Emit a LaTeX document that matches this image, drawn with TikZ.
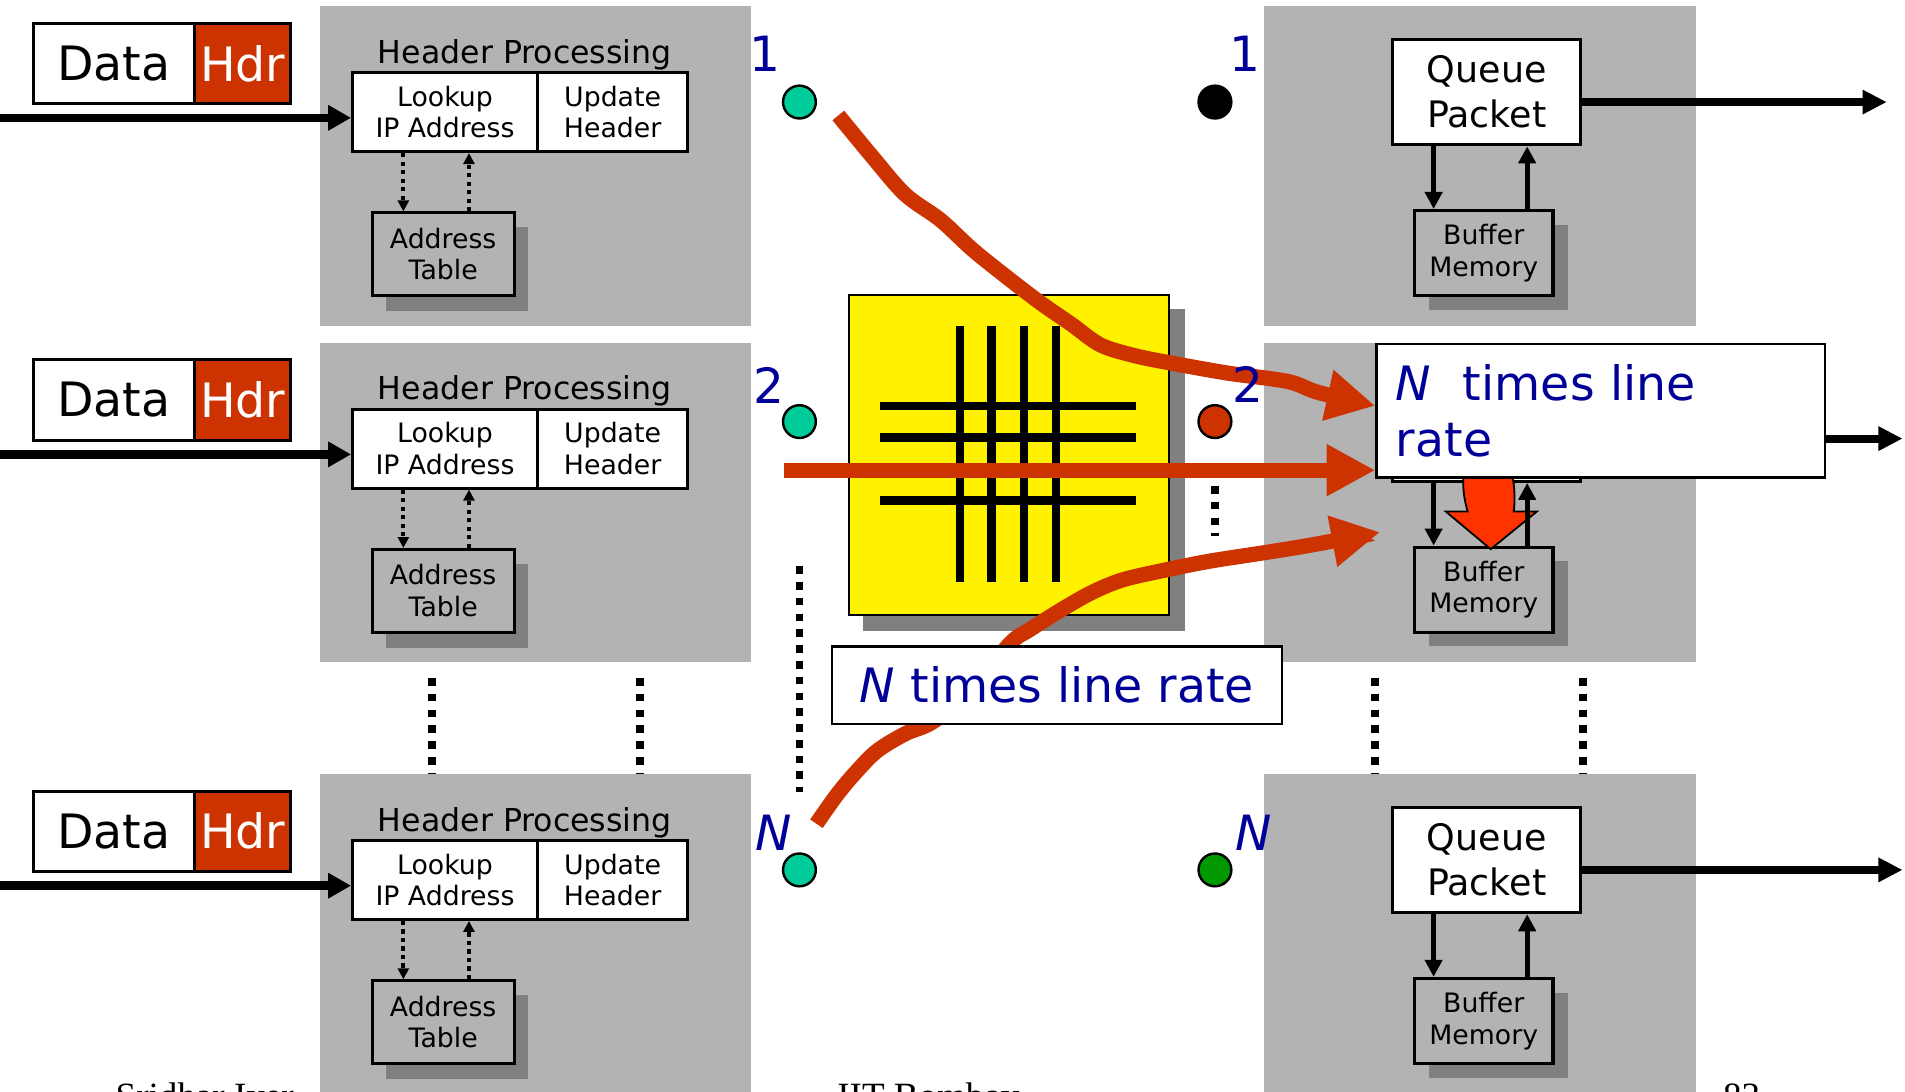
\documentclass[tikz,border=0pt]{standalone}
\usepackage{fontspec}
\setmainfont{DejaVu Sans}
\newfontfamily\footfont{Liberation Serif}
\usetikzlibrary{arrows.meta,calc}
\definecolor{bggray}{RGB}{179,179,179}
\definecolor{shgray}{RGB}{128,128,128}
\definecolor{hdrred}{RGB}{204,51,0}
\definecolor{tealc}{RGB}{0,204,153}
\definecolor{greenc}{RGB}{0,153,0}
\definecolor{lblue}{RGB}{0,0,153}
\definecolor{bigred}{RGB}{255,51,0}
\newcommand\fData{\fontsize{39}{46}\selectfont}
\newcommand\fHP{\fontsize{26}{31}\selectfont}
\newcommand\fSm{\fontsize{22}{26}\selectfont}
\newcommand\fQ{\fontsize{30}{37}\selectfont}
\newcommand\fBig{\fontsize{39}{46}\selectfont}
\newcommand\fLbl{\fontsize{40}{48}\selectfont}
\newcommand\fFoot{\footfont\fontsize{30.5}{36}\selectfont}
\tikzset{
  box/.style={draw=black, line width=2.5pt, fill=white, inner sep=0pt, anchor=north west},
  inarrow/.style={line width=7pt, -{Triangle[length=19pt,width=20pt]}},
  outarrow/.style={line width=6.5pt, -{Triangle[length=20pt,width=19pt]}},
  qarrow/.style={line width=4pt, -{Triangle[length=14pt,width=14pt]}},
  dotarrow/.style={line width=3.5pt, dash pattern=on 3.5pt off 3.5pt, -{Triangle[length=9pt,width=9pt]}},
  sepdots/.style={line width=6.3pt, dash pattern=on 6.3pt off 6.7pt},
  port/.style={circle, draw=black, line width=2pt, minimum size=27pt, inner sep=0pt},
  lbl/.style={text=lblue, font=\fLbl, anchor=base, inner sep=0pt},
  flow/.style={draw=hdrred, line width=12.5pt, -{Triangle[length=40pt,width=40pt]}},
  xbar/.style={line width=7pt},
}
\begin{document}
\begin{tikzpicture}[x=1pt,y=-1pt]
\useasboundingbox (0,0) rectangle (1568,898);
\fill[white] (0,0) rectangle (1568,898);

% dotted separators between rows
\draw[sepdots] (355.5,558) -- (355.5,640);
\draw[sepdots] (527,558) -- (527,640);
\draw[sepdots] (1132,558) -- (1132,640);
\draw[sepdots] (1303,558) -- (1303,640);

% ---------- input side ----------
\foreach \r/\dy in {1/0,2/277,3/632}{
  \fill[bggray] (263,{5+\dy}) rectangle (618.5,{268+\dy});
  \node[box, minimum width=133pt, minimum height=66pt, font=\fData] (data\r) at (26,{18+\dy}) {Data};
  \node[box, fill=hdrred, text=white, minimum width=79pt, minimum height=66pt, font=\fData] (hdr\r) at (159,{18+\dy}) {Hdr};
  \node[anchor=base, font=\fHP, inner sep=0pt] (hp\r) at (432,{52+\dy}) {Header Processing};
  \node[box, minimum width=152pt, minimum height=65pt, align=center, font=\fSm] (lookup\r) at (289,{58.5+\dy}) {Lookup\\IP Address};
  \node[box, minimum width=124pt, minimum height=65pt, align=center, font=\fSm] (update\r) at (441,{58.5+\dy}) {Update\\Header};
  \fill[shgray] (318,{187+\dy}) rectangle (435,{256+\dy});
  \node[box, fill=bggray, minimum width=117pt, minimum height=68pt, align=center, font=\fSm] (addr\r) at (305,{174+\dy}) {Address\\Table};
  \coordinate (in\r) at (0,{97+\dy});
  \draw[inarrow] (in\r) -- (in\r -| lookup\r.west);
  \coordinate (la\r) at ($(lookup\r.south west)+(43,0)$);
  \coordinate (lb\r) at ($(lookup\r.south west)+(97,0)$);
  \draw[dotarrow] (la\r) -- (la\r |- addr\r.north);
  \draw[dotarrow] (lb\r |- addr\r.north) -- (lb\r);
}

% ---------- output side ----------
\foreach \r/\dy/\tx/\qt in {1/0/1553/{Queue\\Packet},2/277/1566/{},3/632/1566/{Queue\\Packet}}{
  \fill[bggray] (1040,{5+\dy}) rectangle (1396,{268+\dy});
  \node[box, minimum width=155pt, minimum height=87pt, align=center, font=\fQ] (q\r) at (1145,{31+\dy}) {\qt};
  \fill[shgray] (1176,{185+\dy}) rectangle (1291,{255+\dy});
  \node[box, fill=bggray, minimum width=114pt, minimum height=70pt, align=center, font=\fSm] (buf\r) at (1163,{172+\dy}) {Buffer\\Memory};
  \coordinate (out\r) at (\tx,{84+\dy});
  \draw[outarrow] (q\r.east |- out\r) -- (out\r);
  \coordinate (qa\r) at ($(q\r.south west)+(35,0)$);
  \coordinate (qb\r) at ($(q\r.south west)+(112,0)$);
}
\foreach \r in {1,3}{
  \draw[qarrow] (qa\r) -- (qa\r |- buf\r.north);
  \draw[qarrow] (qb\r |- buf\r.north) -- (qb\r);
}

% ---------- switch fabric ----------
\fill[shgray] (710,254) rectangle (975,519);
\node[box, line width=2pt, fill=yellow, minimum width=263pt, minimum height=263pt] (sw) at (698,242) {};
\foreach \x in {790,816,843,869} \draw[xbar] (\x,268) -- (\x,479);
\foreach \y in {334,360,386,412} \draw[xbar] (724,\y) -- (935,\y);

% ports
\node[port, fill=tealc] (i1) at (658,84) {};
\node[port, fill=tealc] (i2) at (658,347) {};
\node[port, fill=tealc] (iN) at (658,716) {};
\node[port, fill=black] (o1) at (1000,84) {};
\node[port, fill=hdrred] (o2) at (1000,347) {};
\node[port, fill=greenc] (oN) at (1000,716) {};
\draw[sepdots] (658,466) -- (658,652);
\draw[sepdots] (1000,400) -- (1000,441);

% big red down arrow into buffer memory (row 2)
\draw[fill=bigred, line width=1.5pt, line join=miter]
  (1205,388) .. controls (1203,402) and (1206,414) .. (1208,421) -- (1190,421) -- (1227,452)
  -- (1265,421) -- (1246,421) .. controls (1247,412) and (1247,400) .. (1244,388);

% red flows
\draw[flow] plot[smooth, tension=0.55] coordinates {(690,95) (718,129) (745,160) (774,181) (800,205) (826,226) (856,249) (882,267) (906,284) (935,293) (965,299) (1010,307) (1060,314) (1085,323) (1132,334)};
\draw[flow] (645,387) -- (1132,387);
\draw[flow] plot[smooth, tension=0.55] coordinates {(672,678) (689,654) (705,635) (722,618) (745,604) (768,594) (800,568) (831,530) (848,518) (875,501) (900,487) (925,477) (960,469) (995,462) (1040,455) (1077,449) (1136,438)};

% callouts
\node[box, line width=2pt, minimum width=370pt, minimum height=64pt, text=lblue, font=\fBig] (nbox) at (684,531) {\textit{N} times line rate};
\node[box, line width=2pt, minimum width=369pt, minimum height=110pt, text width=337pt, inner xsep=16pt, align=left, text=lblue, font=\fBig] (callout) at (1132,282) {\textit{N}\ \ times line\\rate};

% row 2 queue/buffer arrows (on top)
\draw[qarrow] (qa2) -- (qa2 |- buf2.north);
\draw[qarrow] (qb2 |- buf2.north) -- (qb2);

% port labels
\node[lbl] (li1) at (630,59) {1};
\node[lbl] (li2) at (633,332) {2};
\node[lbl] (liN) at (637,700) {\textit{N}};
\node[lbl] (lo1) at (1025,59) {1};
\node[lbl] (lo2) at (1027,331) {2};
\node[lbl] (loN) at (1032,700) {\textit{N}};

% footer (cut by the page edge)
\node[anchor=base west, font=\fFoot, inner sep=0pt] (ft1) at (95,912) {Sridhar Iyer};
\node[anchor=base west, font=\fFoot, inner sep=0pt] (ft2) at (689,912) {IIT Bombay};
\node[anchor=base west, font=\fFoot, inner sep=0pt] (ft3) at (1418,912) {83};
\end{tikzpicture}
\end{document}
